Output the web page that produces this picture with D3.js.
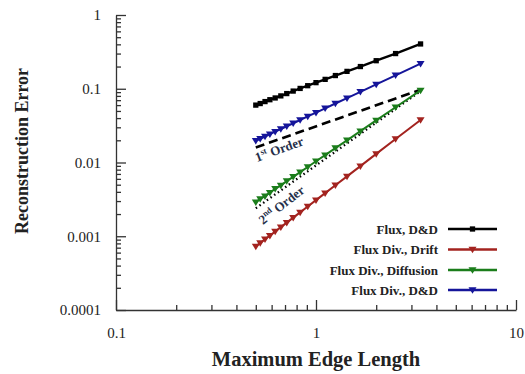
<!DOCTYPE html>
<html>
<head>
<meta charset="utf-8">
<script src="https://cdn.jsdelivr.net/npm/d3@7"></script>
<style>
  body { margin: 0; background: white; }
</style>
</head>
<body>
<script>
// Maximum edge length for each mesh
const edgeLength = [0.5, 0.526, 0.556, 0.588, 0.625, 0.667, 0.714, 0.769, 0.833, 0.909,
  1.0, 1.111, 1.25, 1.429, 1.667, 2.0, 2.5, 3.333];

// Reconstruction error
const fluxDD = [0.060, 0.063, 0.067, 0.071, 0.075, 0.080, 0.086, 0.093, 0.101, 0.110,
  0.121, 0.134, 0.151, 0.172, 0.200, 0.240, 0.300, 0.405];
const fluxDivDrift = [0.00073, 0.00081, 0.00091, 0.00102, 0.00116, 0.00133, 0.00153, 0.00179, 0.00211, 0.00253,
  0.00309, 0.00384, 0.00491, 0.00648, 0.00894, 0.0131, 0.0208, 0.0377];
const fluxDivDiffusion = [0.0029, 0.0032, 0.0035, 0.0039, 0.0044, 0.0049, 0.0056, 0.0064, 0.0074, 0.0087,
  0.0104, 0.0126, 0.0157, 0.0200, 0.0266, 0.0372, 0.0561, 0.0951];
const fluxDivDD = [0.0197, 0.0210, 0.0225, 0.0242, 0.0262, 0.0284, 0.0310, 0.0340, 0.0377, 0.0421,
  0.0475, 0.0543, 0.0631, 0.0747, 0.0909, 0.1146, 0.1521, 0.2193];

// Reference slopes
const orderX = [0.5, 3.333];
const firstOrder = [0.016, 0.097];
const secondOrder = [0.0024, 0.093];

const xTicks = [0.1, 1, 10];
const yTicks = [0.0001, 0.001, 0.01, 0.1, 1];

const series = [
  {name: 'Flux, D&D', values: fluxDD, colour: '#000000', marker: 'square'},
  {name: 'Flux Div., Drift', values: fluxDivDrift, colour: '#a3231f', marker: 'triangle'},
  {name: 'Flux Div., Diffusion', values: fluxDivDiffusion, colour: '#1b7d1b', marker: 'triangle'},
  {name: 'Flux Div., D&D', values: fluxDivDD, colour: '#15159a', marker: 'triangle'}
];

const width = 525, height = 374;
const serif = "'Liberation Serif', 'Times New Roman', serif";

const svg = d3.select('body')
  .append('svg')
  .attr('width', width)
  .attr('height', height);

const x = d3.scaleLog().domain([0.1, 10]).range([116, 516]);
const y = d3.scaleLog().domain([0.0001, 1]).range([310, 15]);

// minor tick values
let xMinor = [], yMinor = [];
[0.1, 1].forEach(d => { for (let k = 2; k < 10; k++) xMinor.push(d * k); });
[0.0001, 0.001, 0.01, 0.1].forEach(d => { for (let k = 2; k < 10; k++) yMinor.push(d * k); });

// x axis
svg.append('g')
  .attr('transform', 'translate(0,310)')
  .call(d3.axisBottom(x).tickValues(xMinor).tickSize(-5).tickFormat(''))
  .call(g => g.select('.domain').remove());

svg.append('g')
  .attr('transform', 'translate(0,310)')
  .call(d3.axisBottom(x).tickValues(xTicks).tickSize(-10).tickSizeOuter(0).tickPadding(17).tickFormat(d => d));

// y axis
svg.append('g')
  .attr('transform', 'translate(116,0)')
  .call(d3.axisLeft(y).tickValues(yMinor).tickSize(-5).tickFormat(''))
  .call(g => g.select('.domain').remove());

svg.append('g')
  .attr('transform', 'translate(116,0)')
  .call(d3.axisLeft(y).tickValues(yTicks).tickSize(-10).tickSizeOuter(0).tickPadding(15).tickFormat(d => d));

svg.selectAll('.tick line, .domain')
  .attr('stroke', '#333')
  .attr('stroke-width', 1.3);

svg.selectAll('.tick text')
  .attr('font-family', serif)
  .attr('font-size', 15)
  .attr('fill', '#222');

// axis titles
svg.append('text')
  .attr('x', 316)
  .attr('y', 366)
  .attr('text-anchor', 'middle')
  .attr('font-family', serif)
  .attr('font-weight', 'bold')
  .attr('font-size', 20.5)
  .attr('fill', '#222')
  .text('Maximum Edge Length');

svg.append('text')
  .attr('transform', 'translate(28,151) rotate(-90)')
  .attr('text-anchor', 'middle')
  .attr('font-family', serif)
  .attr('font-weight', 'bold')
  .attr('font-size', 18)
  .attr('fill', '#222')
  .text('Reconstruction Error');

const line = d3.line()
  .x(d => x(d[0]))
  .y(d => y(d[1]));

// order lines
svg.append('path')
  .attr('d', line(d3.zip(orderX, firstOrder)))
  .attr('fill', 'none')
  .attr('stroke', '#000')
  .attr('stroke-width', 2.6)
  .attr('stroke-dasharray', '9,5');

svg.append('path')
  .attr('d', line(d3.zip(orderX, secondOrder)))
  .attr('fill', 'none')
  .attr('stroke', '#000')
  .attr('stroke-width', 2.3)
  .attr('stroke-dasharray', '1.5,3');

const square = d3.symbol().type(d3.symbolSquare).size(28);
const triangle = 'M-4,-2.7L4,-2.7L0,3.8Z';

function marker(g, s, px, py) {
  if (s.marker === 'square') {
    g.append('path')
      .attr('transform', `translate(${px},${py})`)
      .attr('d', square())
      .attr('fill', s.colour);
  } else {
    g.append('path')
      .attr('transform', `translate(${px},${py})`)
      .attr('d', triangle)
      .attr('fill', s.colour);
  }
}

// data series
series.forEach(s => {
  const g = svg.append('g');
  g.append('path')
    .attr('d', line(d3.zip(edgeLength, s.values)))
    .attr('fill', 'none')
    .attr('stroke', s.colour)
    .attr('stroke-width', s.marker === 'square' ? 2.4 : 2);
  edgeLength.forEach((e, i) => marker(g, s, x(e), y(s.values[i])));
});

// order labels
const lab1 = svg.append('text')
  .attr('transform', 'translate(257,162) rotate(-20)')
  .attr('font-family', serif)
  .attr('font-weight', 'bold')
  .attr('font-size', 13)
  .attr('fill', '#26304a');
lab1.append('tspan').text('1');
lab1.append('tspan').attr('font-size', 8.5).attr('dy', -5).text('st');
lab1.append('tspan').attr('dy', 5).text(' Order');

const lab2 = svg.append('text')
  .attr('transform', 'translate(263,225) rotate(-38)')
  .attr('font-family', serif)
  .attr('font-weight', 'bold')
  .attr('font-size', 13)
  .attr('fill', '#26304a');
lab2.append('tspan').text('2');
lab2.append('tspan').attr('font-size', 8.5).attr('dy', -5).text('nd');
lab2.append('tspan').attr('dy', 5).text(' Order');

// legend
const legendY = [229, 249.5, 270, 290];
series.forEach((s, i) => {
  const g = svg.append('g');
  g.append('text')
    .attr('x', 438)
    .attr('y', legendY[i] + 4.5)
    .attr('text-anchor', 'end')
    .attr('font-family', serif)
    .attr('font-weight', 'bold')
    .attr('font-size', 13)
    .attr('fill', '#222')
    .text(s.name);
  g.append('line')
    .attr('x1', 448).attr('x2', 497)
    .attr('y1', legendY[i]).attr('y2', legendY[i])
    .attr('stroke', s.colour)
    .attr('stroke-width', 2.3);
  marker(g, s, 472.5, legendY[i]);
});
</script>
</body>
</html>
